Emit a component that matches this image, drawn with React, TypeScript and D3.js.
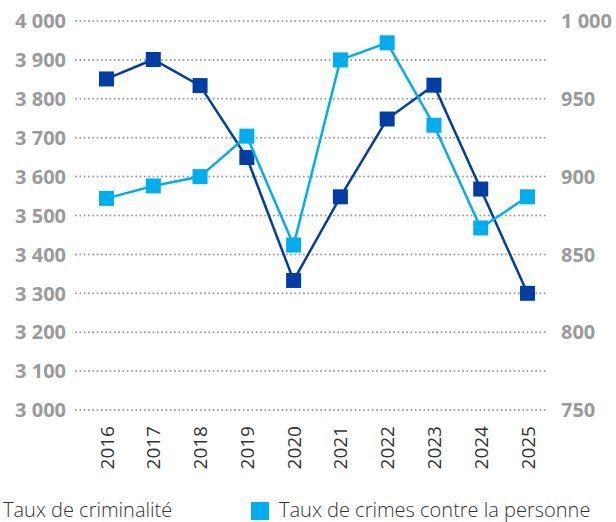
import React from "react";
import * as d3 from "d3";

const years = ["2016", "2017", "2018", "2019", "2020", "2021", "2022", "2023", "2024", "2025"];
const crimeRate = [3851, 3901, 3834, 3649, 3333, 3548, 3748, 3835, 3568, 3300];
const personCrimeRate = [886, 894, 900, 926, 856, 975, 986, 933, 867, 887];
const leftTicks = [3000, 3100, 3200, 3300, 3400, 3500, 3600, 3700, 3800, 3900, 4000];
const rightTicks = [750, 800, 850, 900, 950, 1000];
const seriesNames = ["Taux de criminalité", "Taux de crimes contre la personne"];

const W = 616;
const H = 522;
const DARK = "#003DA5";
const LIGHT = "#00AEEF";
const GRID = "#9b9b9b";
const AXIS_TEXT = "#9a9a9a";
const LABEL_TEXT = "#333333";
const FONT = "'Open Sans', 'Noto Sans', sans-serif";

const fmt = (v: number) => {
  const s = String(v);
  return s.length > 3 ? s.slice(0, s.length - 3) + " " + s.slice(-3) : s;
};

export default function App() {
  const x = d3.scalePoint<string>().domain(years).range([106.5, 527.5]);
  const yL = d3.scaleLinear().domain([3000, 4000]).range([410, 21]);
  const yR = d3.scaleLinear().domain([750, 1000]).range([410, 21]);
  const gridX0 = 76;
  const gridX1 = 549;

  const lineL = d3
    .line<number>()
    .x((_, i) => x(years[i]) as number)
    .y((d) => yL(d));
  const lineR = d3
    .line<number>()
    .x((_, i) => x(years[i]) as number)
    .y((d) => yR(d));

  const ms = 15;

  return (
    <div style={{ position: "absolute", left: 0, top: 0 }}>
      <svg width={W} height={H} style={{ display: "block", fontFamily: FONT }}>
        <rect width={W} height={H} fill="#ffffff" />
        {leftTicks.map((t) => (
          <line
            key={"g" + t}
            x1={gridX0}
            x2={gridX1}
            y1={yL(t)}
            y2={yL(t)}
            stroke={GRID}
            strokeWidth={2}
            strokeDasharray="0 4.3"
            strokeLinecap="round"
          />
        ))}
        {leftTicks.map((t) => (
          <text
            key={"l" + t}
            x={66}
            y={yL(t)}
            dy="0.36em"
            textAnchor="end"
            fontSize={20}
            fontWeight={700}
            fill={AXIS_TEXT}
          >
            {fmt(t)}
          </text>
        ))}
        {rightTicks.map((t) => (
          <text
            key={"r" + t}
            x={561}
            y={yR(t)}
            dy="0.36em"
            textAnchor="start"
            fontSize={20}
            fontWeight={700}
            fill={AXIS_TEXT}
          >
            {fmt(t)}
          </text>
        ))}
        {years.map((yr) => (
          <text
            key={"x" + yr}
            transform={`translate(${(x(yr) as number) + 7},${426}) rotate(-90)`}
            textAnchor="end"
            fontSize={19}
            fill={LABEL_TEXT}
          >
            {yr}
          </text>
        ))}
        <path d={lineL(crimeRate) || ""} fill="none" stroke={DARK} strokeWidth={2.5} />
        {crimeRate.map((v, i) => (
          <rect
            key={"d" + i}
            x={(x(years[i]) as number) - ms / 2}
            y={yL(v) - ms / 2}
            width={ms}
            height={ms}
            fill={DARK}
          />
        ))}
        <path d={lineR(personCrimeRate) || ""} fill="none" stroke={LIGHT} strokeWidth={2.5} />
        {personCrimeRate.map((v, i) => (
          <rect
            key={"p" + i}
            x={(x(years[i]) as number) - ms / 2}
            y={yR(v) - ms / 2}
            width={ms}
            height={ms}
            fill={LIGHT}
          />
        ))}
        <text x={3} y={517} fontSize={20} fontWeight={300} fill={LABEL_TEXT}>
          {seriesNames[0]}
        </text>
        <rect x={251} y={502} width={18} height={18} fill={LIGHT} />
        <text x={279} y={517} fontSize={20} fontWeight={300} fill={LABEL_TEXT}>
          {seriesNames[1]}
        </text>
      </svg>
    </div>
  );
}
